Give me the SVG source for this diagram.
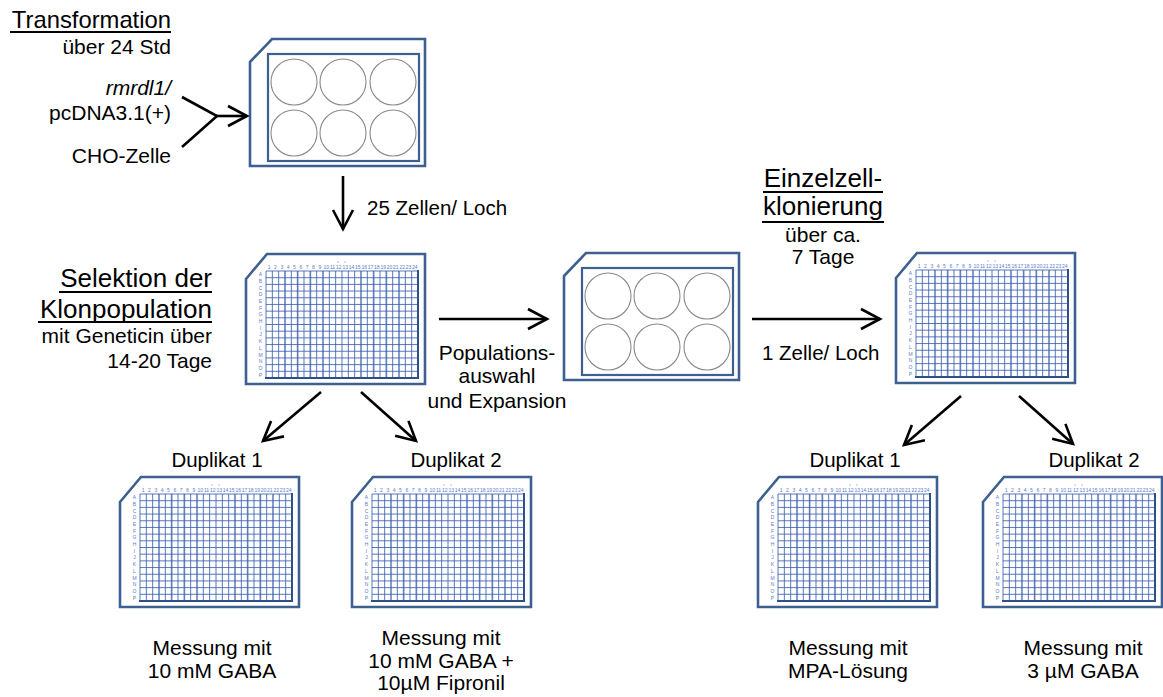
<svg xmlns="http://www.w3.org/2000/svg" xmlns:xlink="http://www.w3.org/1999/xlink" width="1163" height="697" viewBox="0 0 1163 697">
<style>
.plate{fill:#fff;stroke:#3d6090;stroke-width:2.6}
.inner{fill:none;stroke:#3d6090;stroke-width:2.2}
.well{fill:#fff;stroke:#8a8a8a;stroke-width:1.1}
.grid{fill:none;stroke:#3c60b0;stroke-width:0.85}
.pale{fill:none;stroke:#b9c8e4;stroke-width:2.2}
.gedge{fill:none;stroke:#2e5088;stroke-width:2}
.lbl{font-family:"Liberation Sans",Arial,sans-serif;font-size:5px;fill:#5a7cc4;text-anchor:middle}
.t{font-family:"Liberation Sans",Arial,sans-serif;font-size:21px;fill:#000}
.s{font-size:20.5px}
.h{font-size:26px}
.tr{font-size:23.8px}
.e{text-anchor:end}
.m{text-anchor:middle}
.arr{fill:none;stroke:#000;stroke-width:2.6}
.ul{stroke:#000;stroke-width:1.8}
</style>
<defs>
<marker id="ah" markerUnits="userSpaceOnUse" markerWidth="26" markerHeight="26" viewBox="0 0 26 26" refX="21" refY="13" orient="auto">
<path d="M2,3 L21,13 L2,23" fill="none" stroke="#000" stroke-width="2.6"/>
</marker>
<g id="p6">
<path class="plate" d="M0,23 L22,0 H175 V127 H0 Z"/>
<rect class="inner" x="18" y="15" width="151" height="107"/>
<circle class="well" cx="44" cy="43" r="23"/>
<circle class="well" cx="93" cy="43" r="23"/>
<circle class="well" cx="143" cy="43" r="23"/>
<circle class="well" cx="44" cy="94" r="23"/>
<circle class="well" cx="93" cy="94" r="23"/>
<circle class="well" cx="143" cy="94" r="23"/>
</g>
<g id="p384">
<path class="plate" d="M0,25 L21,0 H179 V130 H0 Z"/>
<path class="pale" d="M39,17V124M51.67,17V124M64.33,17V124M77,17V124M115,17V124M127.67,17V124M140.33,17V124M153,17V124"/>
<path class="grid" d="M20,17V124M26.33,17V124M32.67,17V124M39,17V124M45.33,17V124M51.67,17V124M58,17V124M64.33,17V124M70.67,17V124M77,17V124M83.33,17V124M89.67,17V124M96,17V124M102.33,17V124M108.67,17V124M115,17V124M121.33,17V124M127.67,17V124M134,17V124M140.33,17V124M146.67,17V124M153,17V124M159.33,17V124M165.67,17V124M172,17V124M20,17H172M20,23.69H172M20,30.38H172M20,37.06H172M20,43.75H172M20,50.44H172M20,57.13H172M20,63.81H172M20,70.5H172M20,77.19H172M20,83.88H172M20,90.56H172M20,97.25H172M20,103.94H172M20,110.63H172M20,117.31H172M20,124H172"/>
<path class="gedge" d="M172,16V124H19"/>
<circle cx="92" cy="8" r="0.6" fill="#5a7cc4"/>
<circle cx="99" cy="8" r="0.6" fill="#5a7cc4"/>
<text class="lbl" x="23.17" y="15">1</text><text class="lbl" x="29.5" y="15">2</text><text class="lbl" x="35.83" y="15">3</text><text class="lbl" x="42.17" y="15">4</text><text class="lbl" x="48.5" y="15">5</text><text class="lbl" x="54.83" y="15">6</text><text class="lbl" x="61.17" y="15">7</text><text class="lbl" x="67.5" y="15">8</text><text class="lbl" x="73.83" y="15">9</text><text class="lbl" x="80.17" y="15">10</text><text class="lbl" x="86.5" y="15">11</text><text class="lbl" x="92.83" y="15">12</text><text class="lbl" x="99.17" y="15">13</text><text class="lbl" x="105.5" y="15">14</text><text class="lbl" x="111.83" y="15">15</text><text class="lbl" x="118.17" y="15">16</text><text class="lbl" x="124.5" y="15">17</text><text class="lbl" x="130.83" y="15">18</text><text class="lbl" x="137.17" y="15">19</text><text class="lbl" x="143.5" y="15">20</text><text class="lbl" x="149.83" y="15">21</text><text class="lbl" x="156.17" y="15">22</text><text class="lbl" x="162.5" y="15">23</text><text class="lbl" x="168.83" y="15">24</text>
<text class="lbl" x="14.5" y="22.2">A</text><text class="lbl" x="14.5" y="28.9">B</text><text class="lbl" x="14.5" y="35.6">C</text><text class="lbl" x="14.5" y="42.3">D</text><text class="lbl" x="14.5" y="49">E</text><text class="lbl" x="14.5" y="55.7">F</text><text class="lbl" x="14.5" y="62.4">G</text><text class="lbl" x="14.5" y="69.1">H</text><text class="lbl" x="14.5" y="75.7">I</text><text class="lbl" x="14.5" y="82.4">J</text><text class="lbl" x="14.5" y="89.1">K</text><text class="lbl" x="14.5" y="95.8">L</text><text class="lbl" x="14.5" y="102.5">M</text><text class="lbl" x="14.5" y="109.2">N</text><text class="lbl" x="14.5" y="115.9">O</text><text class="lbl" x="14.5" y="122.6">P</text>
</g>
</defs>
<rect width="1163" height="697" fill="#fff"/>

<g id="plate-transformation"><use xlink:href="#p6" href="#p6" transform="translate(250,39)"/></g>
<g id="plate-selektion"><use xlink:href="#p384" href="#p384" transform="translate(246,254)"/></g>
<g id="plate-expansion"><use xlink:href="#p6" href="#p6" transform="translate(564,253)"/></g>
<g id="plate-einzelzell"><use xlink:href="#p384" href="#p384" transform="translate(896,253)"/></g>
<g id="plate-dup1-left"><use xlink:href="#p384" href="#p384" transform="translate(120,477)"/></g>
<g id="plate-dup2-left"><use xlink:href="#p384" href="#p384" transform="translate(352,477)"/></g>
<g id="plate-dup1-right"><use xlink:href="#p384" href="#p384" transform="translate(758,477)"/></g>
<g id="plate-dup2-right"><use xlink:href="#p384" href="#p384" transform="translate(983,477)"/></g>

<g id="connectors">
<path class="arr" d="M182,97 L217,116 L182,147"/>
<path class="arr" d="M216,116 H247" marker-end="url(#ah)"/>
<path class="arr" d="M343,176 V229" marker-end="url(#ah)"/>
<path class="arr" d="M439,319 H547" marker-end="url(#ah)"/>
<path class="arr" d="M752,319 H880" marker-end="url(#ah)"/>
<path class="arr" d="M321,392 L263,441" marker-end="url(#ah)"/>
<path class="arr" d="M361,392 L416,441" marker-end="url(#ah)"/>
<path class="arr" d="M961,396 L904,445" marker-end="url(#ah)"/>
<path class="arr" d="M1019,396 L1073,444" marker-end="url(#ah)"/>
</g>

<g id="labels">
<text class="t tr e" x="171" y="28">Transformation</text>
<line class="ul" x1="10" y1="32" x2="171" y2="32"/>
<text class="t e" x="171" y="54">über 24 Std</text>
<text class="t e" x="171" y="95" font-style="italic">rmrdl1/</text>
<text class="t e" x="171" y="120">pcDNA3.1(+)</text>
<text class="t e" x="171" y="163">CHO-Zelle</text>
<text class="t s" x="367" y="215">25 Zellen/ Loch</text>

<text class="t h e" x="212" y="287">Selektion der</text>
<line class="ul" x1="59" y1="292" x2="212" y2="292"/>
<text class="t h e" x="212" y="318">Klonpopulation</text>
<line class="ul" x1="38" y1="322" x2="212" y2="322"/>
<text class="t e" x="212" y="343">mit Geneticin über</text>
<text class="t e" x="212" y="368">14-20 Tage</text>

<text class="t m" x="497" y="360">Populations-</text>
<text class="t m" x="497" y="383">auswahl</text>
<text class="t m" x="497" y="408">und Expansion</text>
<text class="t s" x="762" y="360">1 Zelle/ Loch</text>

<text class="t h m" x="823" y="187">Einzelzell-</text>
<line class="ul" x1="763" y1="192" x2="883" y2="192"/>
<text class="t h m" x="823" y="215">klonierung</text>
<line class="ul" x1="762" y1="222" x2="884" y2="222"/>
<text class="t m" x="823" y="242">über ca.</text>
<text class="t m" x="823" y="264">7 Tage</text>

<text class="t s m" x="217" y="467">Duplikat 1</text>
<text class="t s m" x="456" y="467">Duplikat 2</text>
<text class="t s m" x="855" y="467">Duplikat 1</text>
<text class="t s m" x="1094" y="467">Duplikat 2</text>

<text class="t m" x="212" y="655">Messung mit</text>
<text class="t m" x="212" y="678">10 mM GABA</text>
<text class="t m" x="441" y="645">Messung mit</text>
<text class="t m" x="441" y="668">10 mM GABA +</text>
<text class="t m" x="441" y="690">10µM Fipronil</text>
<text class="t m" x="848" y="655">Messung mit</text>
<text class="t m" x="848" y="678">MPA-Lösung</text>
<text class="t m" x="1083" y="655">Messung mit</text>
<text class="t m" x="1083" y="678">3 µM GABA</text>
</g>
</svg>
